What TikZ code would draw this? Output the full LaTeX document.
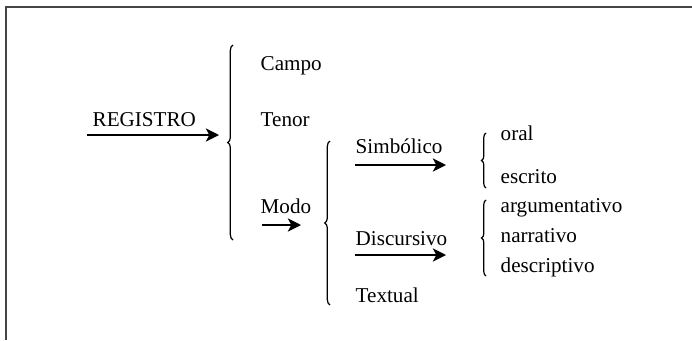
\documentclass[tikz,border=0pt]{standalone}
\usepackage{fontspec}
\setmainfont{Liberation Serif}
\usepackage{tikz}
\usetikzlibrary{arrows.meta, decorations.pathreplacing}
\definecolor{framegray}{RGB}{70,70,70}

\begin{document}
\begin{tikzpicture}[x=0.5682pt, y=-0.5682pt, line width=0.8pt,
		>={Stealth[length=7.5pt, width=7.5pt, inset=2pt]},
		lbl/.style={anchor=base west, inner sep=0pt, font=\fontsize{12}{14}\selectfont},
		brc/.style={decorate, decoration={brace, amplitude=#1}, line width=0.7pt}]
		
		% picture size and frame
		\useasboundingbox (0,0) rectangle (692,340);
		\draw[framegray, line width=1.1pt] (6,340) -- (6,7) -- (692,7);
		
		% first level
		\node[lbl] (registro) at (92,126) {REGISTRO};
		\coordinate (regstart) at (87,135);
		\coordinate (regend) at (219,135);
		\draw[->] (regstart) -- (regend);
		
		\draw[brc=3pt] (233,240) -- (233,45);
		\node[lbl] (campo) at (260,70) {Campo};
		\node[lbl] (tenor) at (260,126) {Tenor};
		\node[lbl] (modo) at (260,213) {Modo};
		\coordinate (modostart) at (262,225);
		\coordinate (modoend) at (301,225);
		\draw[->] (modostart) -- (modoend);
		
		% second level
		\draw[brc=3pt] (330,305) -- (330,141);
		\node[lbl] (simbolico) at (355,153) {Simbólico};
		\node[lbl] (discursivo) at (355,245) {Discursivo};
		\node[lbl] (textual) at (355,302) {Textual};
		\coordinate (simstart) at (355,165);
		\coordinate (simend) at (446,165);
		\draw[->] (simstart) -- (simend);
		\coordinate (disstart) at (355,255);
		\coordinate (disend) at (446,255);
		\draw[->] (disstart) -- (disend);
		
		% third level
		\draw[brc=2.5pt] (486,188) -- (486,133);
		\node[lbl] (oral) at (500,140) {oral};
		\node[lbl] (escrito) at (500,183) {escrito};
		
		\draw[brc=2.5pt] (486,276) -- (486,200);
		\node[lbl] (argumentativo) at (500,212) {argumentativo};
		\node[lbl] (narrativo) at (500,242) {narrativo};
		\node[lbl] (descriptivo) at (500,272) {descriptivo};
	\end{tikzpicture}
\end{document}
